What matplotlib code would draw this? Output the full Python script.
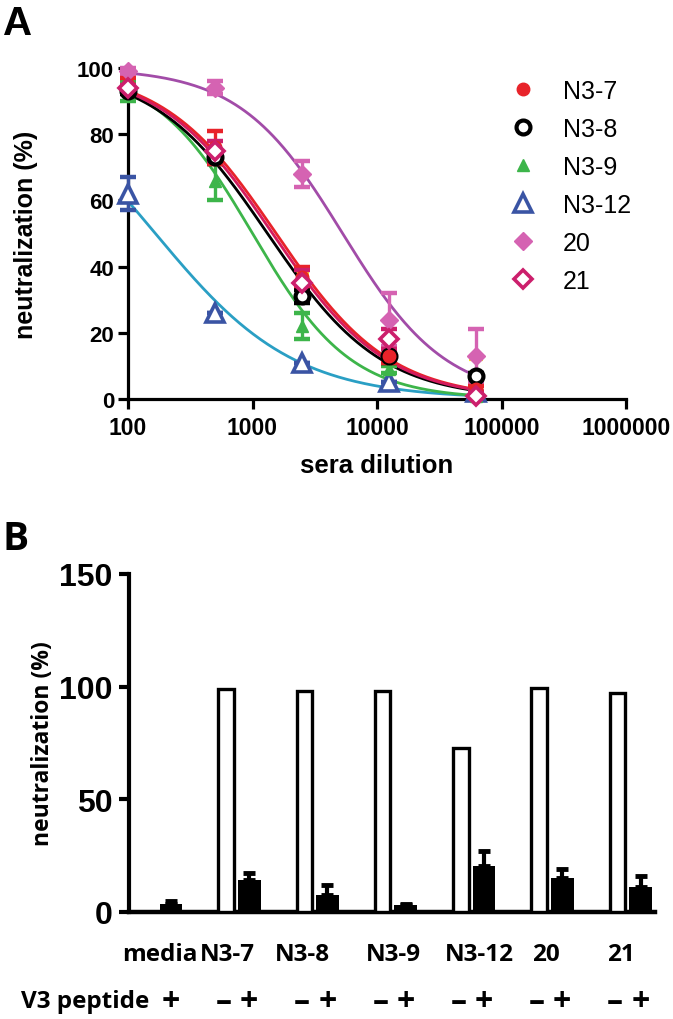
import numpy as np
import matplotlib
matplotlib.use("Agg")
import matplotlib.pyplot as plt
from matplotlib import font_manager
from matplotlib.lines import Line2D
import matplotlib.transforms as mtransforms

# ---------------- data: panel A ----------------
dilutions = [100, 500, 2500, 12500, 62500]
series_names = ["N3-7", "N3-8", "N3-9", "N3-12", "20", "21"]
n3_7_mean = [95, 76, 37, 13, 3]
n3_7_err = [2, 5, 3, 2, 1]
n3_8_mean = [93, 73, 31, 13, 7]
n3_8_err = [1, 2, 2, 2, 1]
n3_9_mean = [93, 66, 22, 9, 1]
n3_9_err = [3, 6, 4, 1, 1]
n3_12_mean = [62, 26, 11, 5, 2]
n3_12_err = [5, 0, 0, 0, 0]
s20_mean = [99, 94, 68, 24, 13]
s20_err = [1, 2, 4, 8, 8]
s21_mean = [94, 75, 35, 18, 1]
s21_err = [1, 3, 4, 3, 1]
hidden_mean = [94, 74, 34, 12, 8]
hidden_err = [1, 2, 4, 2, 4]
# fitted sigmoid parameters (IC50 dilution, Hill slope)
fit_ic50 = {"N3-7": 1550, "N3-8": 1320, "N3-9": 1000, "N3-12": 166, "20": 5300, "21": 1450}
fit_hill = {"N3-7": 0.95, "N3-8": 0.95, "N3-9": 1.1, "N3-12": 0.78, "20": 1.05, "21": 0.95}

# ---------------- data: panel B ----------------
groups = ["media", "N3-7", "N3-8", "N3-9", "N3-12", "20", "21"]
minus_vals = [None, 99, 98, 98, 73, 99.5, 97]
plus_vals = [3.5, 14, 7.5, 3, 20.5, 15, 11]
plus_err = [1.5, 3.5, 4.5, 0.5, 6.5, 4, 5]

# ---------------- fonts ----------------
def has_font(name):
    try:
        font_manager.findfont(name, fallback_to_default=False)
        return True
    except Exception:
        return False

ARIAL = "Liberation Sans"
NARROW = "Liberation Sans Narrow" if has_font("Liberation Sans Narrow") else "Liberation Sans"
CAL = "Open Sans"
plt.rcParams["font.family"] = [ARIAL, "DejaVu Sans"]

fig = plt.figure(figsize=(6.73, 10.2), dpi=100)

# ================= Panel A =================
W, H = 673.0, 1020.0
axA = fig.add_axes([128 / W, 1 - 400 / H, (626 - 128) / W, (400 - 69) / H])
axA.set_xscale("log")
axA.set_xlim(100, 1e6)
axA.set_ylim(0, 100)

styles = {
    "N3-7": dict(marker="o", mfc="#e8232a", mec="#e8232a", ms=9, mew=1, ecol="#e8232a", lcol="#e8232a"),
    "N3-8": dict(marker="o", mfc="white", mec="black", ms=10, mew=3, ecol="black", lcol="black"),
    "N3-9": dict(marker="^", mfc="#3db54a", mec="#3db54a", ms=9, mew=1, ecol="#3db54a", lcol="#3db54a"),
    "N3-12": dict(marker="^", mfc="white", mec="#3a54a4", ms=13, mew=2.6, ecol="#3a54a4", lcol="#2a9fc4"),
    "20": dict(marker="D", mfc="#d563b2", mec="#d563b2", ms=9, mew=1, ecol="#d563b2", lcol="#a24ca8"),
    "21": dict(marker="D", mfc="white", mec="#cc1f6c", ms=9.5, mew=2.6, ecol="#cc1f6c", lcol="#d41b5e"),
}
means = {"N3-7": n3_7_mean, "N3-8": n3_8_mean, "N3-9": n3_9_mean,
         "N3-12": n3_12_mean, "20": s20_mean, "21": s21_mean}
errs = {"N3-7": n3_7_err, "N3-8": n3_8_err, "N3-9": n3_9_err,
        "N3-12": n3_12_err, "20": s20_err, "21": s21_err}

# hidden (yellow) error bars underneath
axA.errorbar(dilutions, hidden_mean, yerr=hidden_err, fmt="none", ecolor="#f4e51c",
             elinewidth=2.2, capsize=5, capthick=3, zorder=2, clip_on=False)

xs = np.logspace(2, np.log10(65000), 300)
draw_order = ["N3-12", "N3-9", "N3-8", "20", "N3-7", "21"]
for name in draw_order:
    st = styles[name]
    ic, h = fit_ic50[name], fit_hill[name]
    ys = 100.0 / (1.0 + 10 ** ((np.log10(xs) - np.log10(ic)) * h))
    axA.plot(xs, ys, color=st["lcol"], lw=2.0, zorder=3)
for name in draw_order:
    st = styles[name]
    axA.errorbar(dilutions, means[name], yerr=errs[name], fmt="none", ecolor=st["ecol"],
                 elinewidth=2.4, capsize=6, capthick=3.2, zorder=4, clip_on=False)
    axA.plot(dilutions, means[name], linestyle="none", marker=st["marker"], mfc=st["mfc"],
             mec=st["mec"], ms=st["ms"], mew=st["mew"], zorder=5, clip_on=False)

for sp in ["top", "right"]:
    axA.spines[sp].set_visible(False)
for sp in ["left", "bottom"]:
    axA.spines[sp].set_linewidth(2.3)
axA.set_yticks([0, 20, 40, 60, 80, 100])
axA.set_xticks([100, 1000, 10000, 100000, 1000000])
axA.set_xticklabels(["100", "1000", "10000", "100000", "1000000"])
axA.xaxis.set_minor_locator(matplotlib.ticker.NullLocator())
axA.tick_params(axis="both", direction="out", width=2.3, length=7)
axA.tick_params(axis="y", pad=3)
axA.tick_params(axis="x", pad=5)
for lab in axA.get_yticklabels():
    lab.set_fontsize(16); lab.set_fontweight("bold")
for lab in axA.get_xticklabels():
    lab.set_fontsize(16.5); lab.set_fontweight("bold")
axA.set_ylabel("neutralization (%)", fontsize=18, fontweight="bold", labelpad=28)
axA.set_xlabel("sera dilution", fontsize=18.5, fontweight="bold", labelpad=10)

handles = []
for name in series_names:
    st = styles[name]
    handles.append(Line2D([], [], linestyle="none", marker=st["marker"], mfc=st["mfc"],
                          mec=st["mec"], ms=st["ms"], mew=st["mew"]))
leg = axA.legend(handles, series_names, loc="upper left", frameon=False,
                 bbox_to_anchor=(513 / W, 1 - 80 / H), bbox_transform=fig.transFigure,
                 prop={"family": ARIAL, "size": 18}, handlelength=0.8, handletextpad=1.2,
                 labelspacing=0.56, borderaxespad=0, borderpad=0)

fig.text(3 / W, 1 - 24 / H, "A", fontsize=29, fontweight="bold", va="center", ha="left")

# ================= Panel B =================
axB = fig.add_axes([129 / W, 1 - 913 / H, (655 - 129) / W, (913 - 575) / H])
xB_left, xB_right = -0.38, 6.34
axB.set_xlim(xB_left, xB_right)
axB.set_ylim(0, 150)
grp_idx = np.arange(len(groups))
off_minus, off_plus = -0.14, 0.155
for i, v in enumerate(minus_vals):
    if v is not None:
        axB.bar(i + off_minus, v, width=0.2, facecolor="white", edgecolor="black",
                linewidth=2.4, zorder=3)
axB.bar(grp_idx + off_plus, plus_vals, width=0.29, color="black", zorder=3)
axB.errorbar(grp_idx + off_plus, plus_vals, yerr=[np.zeros(len(plus_err)), plus_err],
             fmt="none", ecolor="black", elinewidth=3, capsize=4, capthick=3.5, zorder=2)

for sp in ["top", "right"]:
    axB.spines[sp].set_visible(False)
axB.spines["left"].set_linewidth(3)
axB.spines["bottom"].set_linewidth(3.2)
axB.set_yticks([0, 50, 100, 150])
axB.tick_params(axis="y", direction="out", width=3, length=7, pad=5)
for lab in axB.get_yticklabels():
    lab.set_fontsize(23); lab.set_fontweight("bold"); lab.set_family(NARROW)
axB.set_xticks([])
axB.set_ylabel("neutralization (%)", fontsize=16.5, fontweight="bold", family=CAL, labelpad=3)

label_x = [0.02, 0.88, 1.84, 3.0, 4.1, 4.95, 5.9]
tr = mtransforms.blended_transform_factory(axB.transData, fig.transFigure)
for lx, g in zip(label_x, groups):
    axB.text(lx, 1 - 955 / H, g, transform=tr, ha="center", va="center",
             fontsize=17.5, fontweight="bold", family=CAL)
# V3 peptide row
fig.text(21 / W, 1 - 1002 / H, "V3 peptide", ha="left", va="center",
         fontsize=17.5, fontweight="bold", family=CAL)
for i in range(len(groups)):
    if minus_vals[i] is not None:
        axB.text(i + off_minus - 0.03, 1 - 1003 / H, "\u2013", transform=tr, ha="center",
                 va="center", fontsize=23, fontweight="bold", family=CAL)
    axB.text(i + off_plus, 1 - 1003 / H, "+", transform=tr, ha="center",
             va="center", fontsize=23, fontweight="bold", family=CAL)

fig.text(2 / W, 1 - 539 / H, "B", fontsize=28, fontweight="bold", va="center", ha="left",
         family=CAL)

fig.savefig("out.png", dpi=100)
